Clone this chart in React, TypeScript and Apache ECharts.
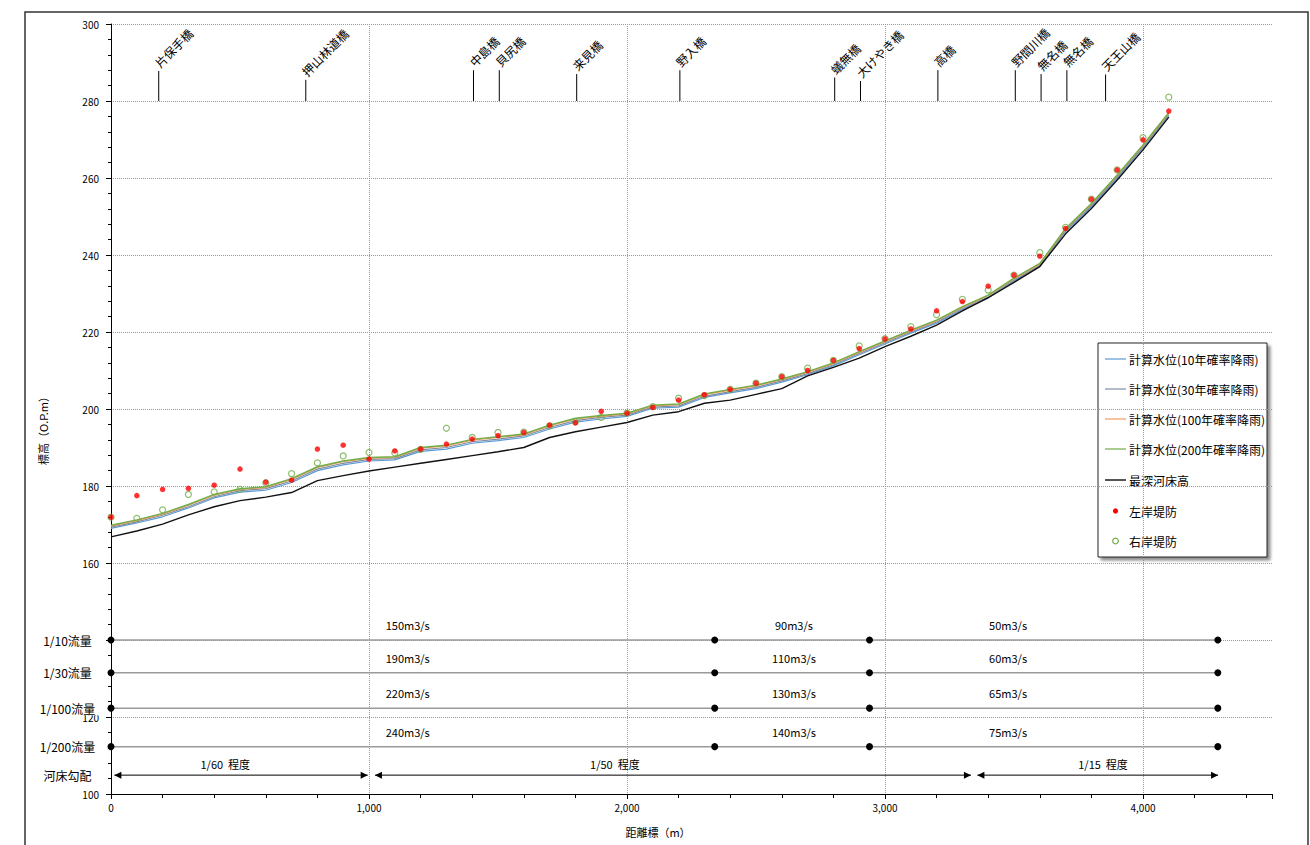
import React, { useEffect, useRef } from "react";
import * as echarts from "echarts";

const FONT = '"Noto Sans CJK JP", "Noto Sans", sans-serif';

// distance marks (m)
const distances = [
  0, 100, 200, 300, 400, 500, 600, 700, 800, 900, 1000, 1100, 1200, 1300,
  1400, 1500, 1600, 1700, 1800, 1900, 2000, 2100, 2200, 2300, 2400, 2500,
  2600, 2700, 2800, 2900, 3000, 3100, 3200, 3300, 3400, 3500, 3600, 3700,
  3800, 3900, 4000, 4100,
];

const level10 = [
  169.0, 170.4, 172.0, 174.3, 176.9, 178.4, 178.9, 180.9, 184.0, 185.5, 186.5,
  186.8, 189.0, 189.6, 191.1, 191.8, 192.6, 194.8, 196.6, 197.4, 198.1, 200.2,
  200.5, 203.0, 204.2, 205.3, 207.0, 208.9, 211.2, 214.1, 216.9, 219.7, 222.3,
  225.8, 228.8, 233.2, 237.0, 246.1, 252.6, 260.0, 267.8, 276.2,
];
const level30 = [
  169.3, 170.7, 172.4, 174.6, 177.2, 178.8, 179.3, 181.3, 184.4, 185.9, 186.9,
  187.1, 189.4, 190.0, 191.5, 192.2, 193.0, 195.2, 197.0, 197.8, 198.4, 200.5,
  200.8, 203.3, 204.5, 205.6, 207.3, 209.2, 211.5, 214.4, 217.2, 220.0, 222.6,
  226.1, 229.1, 233.5, 237.3, 246.4, 252.9, 260.3, 268.1, 276.5,
];
const level100 = [
  169.6, 171.0, 172.7, 175.0, 177.6, 179.1, 179.6, 181.7, 184.8, 186.3, 187.2,
  187.4, 189.8, 190.4, 191.9, 192.6, 193.3, 195.6, 197.4, 198.1, 198.7, 200.8,
  201.1, 203.7, 204.9, 206.0, 207.6, 209.5, 211.8, 214.7, 217.5, 220.3, 222.9,
  226.4, 229.4, 233.8, 237.6, 246.7, 253.2, 260.6, 268.4, 276.8,
];
const level200 = [
  169.8, 171.2, 172.9, 175.2, 177.8, 179.3, 179.8, 181.9, 185.0, 186.5, 187.4,
  187.6, 190.0, 190.6, 192.1, 192.8, 193.5, 195.8, 197.6, 198.3, 198.9, 201.0,
  201.3, 203.9, 205.1, 206.2, 207.8, 209.7, 212.0, 214.9, 217.7, 220.5, 223.1,
  226.6, 229.6, 234.0, 237.8, 246.9, 253.4, 260.8, 268.6, 277.0,
];
const bedLevel = [
  166.8, 168.3, 170.1, 172.5, 174.6, 176.2, 177.1, 178.3, 181.4, 182.7, 183.9,
  184.9, 185.9, 186.9, 187.9, 188.9, 190.0, 192.6, 194.1, 195.3, 196.5, 198.4,
  199.3, 201.5, 202.3, 203.8, 205.3, 208.6, 210.8, 213.2, 216.2, 218.9, 221.8,
  225.5, 228.9, 232.9, 237.0, 245.5, 252.1, 259.5, 267.3, 275.8,
];
const leftBank = [
  171.9, 177.5, 179.1, 179.4, 180.2, 184.4, 181.0, 181.5, 189.6, 190.6, 187.0,
  189.1, 189.6, 190.9, 192.2, 193.1, 193.9, 195.8, 196.4, 199.4, 198.9, 200.4,
  202.3, 203.7, 205.1, 206.7, 208.4, 210.0, 212.6, 215.7, 218.2, 220.8, 225.5,
  227.9, 231.9, 234.8, 239.7, 246.9, 254.5, 262.1, 269.9, 277.4,
];
const rightBank = [
  171.9, 171.6, 173.8, 177.8, 178.5, 179.1, 180.8, 183.2, 186.0, 187.8, 188.7,
  188.6, 189.5, 195.0, 192.6, 193.9, 194.0, 195.6, 196.7, 197.8, 198.9, 200.6,
  202.8, 203.5, 205.1, 206.7, 208.4, 210.6, 212.6, 216.4, 218.3, 221.4, 224.5,
  228.5, 230.9, 234.8, 240.6, 247.2, 254.5, 262.1, 270.5, 281.0,
];

// bridges
const bridgeNames = [
  "片保手橋", "押山林道橋", "中島橋", "貝尻橋", "来見橋", "野入橋", "蟻無橋",
  "大けやき橋", "高橋", "野間川橋", "無名橋", "無名橋", "天王山橋",
];
const bridgeDist = [185, 755, 1405, 1505, 1805, 2205, 2805, 2905, 3205, 3505, 3605, 3705, 3855];
const bridgeTop = [287.8, 285.5, 288, 288, 287, 288, 286.1, 285.2, 288, 288, 287, 288, 286.9];
const bridgeBase = 280;

// design discharge table
const flowRowNames = ["1/10流量", "1/30流量", "1/100流量", "1/200流量"];
const flowLevels = [140, 131.5, 122.3, 112.3];
const flowStations = [0, 2340, 2940, 4290];
const flowLabelDist = [1150, 2647, 3477];
const flowValues = [
  ["150m3/s", "90m3/s", "50m3/s"],
  ["190m3/s", "110m3/s", "60m3/s"],
  ["220m3/s", "130m3/s", "65m3/s"],
  ["240m3/s", "140m3/s", "75m3/s"],
];

// bed slope
const slopeRowName = "河床勾配";
const slopeLevel = 104.9;
const slopeSegments = [
  [13, 995],
  [1023, 3333],
  [3358, 4291],
];
const slopeLabels = ["1/60  程度", "1/50  程度", "1/15  程度"];
const slopeLabelDist = [443, 1953, 3845];

const legendNames = [
  "計算水位(10年確率降雨)",
  "計算水位(30年確率降雨)",
  "計算水位(100年確率降雨)",
  "計算水位(200年確率降雨)",
  "最深河床高",
  "左岸堤防",
  "右岸堤防",
];

const C10 = "#5B9BD5";
const C30 = "#7F8CA3";
const C100 = "#F49A5C";
const C200 = "#70AD47";
const CBED = "#111111";
const CLEFT = "#FF0000";
const CRIGHT = "#70AD47";

function pairs(vals: number[]) {
  return distances.map((d, i) => [d, vals[i]]);
}

function buildOption() {
  const lineSeries = (name: string, vals: number[], color: string, width: number) => ({
    type: "line",
    name,
    data: pairs(vals),
    symbol: "none",
    lineStyle: { color, width },
    itemStyle: { color },
    z: 3,
  });

  const flowLineSeries = flowLevels.map((lv, r) => ({
    type: "line",
    name: flowRowNames[r],
    data: flowStations.map((s) => [s, lv]),
    symbol: "circle",
    symbolSize: 7,
    showSymbol: true,
    itemStyle: { color: "#000" },
    lineStyle: { color: "#9a9a9a", width: 1.5 },
    z: 3,
  }));

  const flowTextData: any[] = [];
  flowLevels.forEach((lv, r) => {
    flowLabelDist.forEach((d, c) => {
      flowTextData.push({ value: [d, lv], name: flowValues[r][c] });
    });
  });

  const rowLabelData = flowLevels
    .map((lv, r) => ({ value: [0, lv], name: flowRowNames[r] }))
    .concat([{ value: [0, slopeLevel], name: slopeRowName }]);

  const slopeLabelData = slopeLabelDist.map((d, i) => ({
    value: [d, slopeLevel],
    name: slopeLabels[i],
  }));

  const legendY = [359, 389, 419, 449, 480, 511, 541];
  const legendColors = [C10, C30, C100, C200, CBED];
  const legendChildren: any[] = [
    {
      type: "rect",
      shape: { x: 1098, y: 343, width: 169, height: 214 },
      style: {
        fill: "#fff",
        stroke: "#222",
        lineWidth: 1,
        shadowBlur: 3,
        shadowOffsetX: 3,
        shadowOffsetY: 3,
        shadowColor: "rgba(0,0,0,0.45)",
      },
    },
  ];
  legendNames.forEach((n, i) => {
    const y = legendY[i];
    if (i < 5) {
      legendChildren.push({
        type: "line",
        shape: { x1: 1105, y1: y, x2: 1126, y2: y },
        style: { stroke: i === 4 ? "#555" : legendColors[i], lineWidth: i === 4 ? 2 : 1.2 },
      });
    } else if (i === 5) {
      legendChildren.push({
        type: "circle",
        shape: { cx: 1115.5, cy: y, r: 2.6 },
        style: { fill: CLEFT },
      });
    } else {
      legendChildren.push({
        type: "circle",
        shape: { cx: 1115.5, cy: y, r: 2.8 },
        style: { fill: "none", stroke: CRIGHT, lineWidth: 1.2 },
      });
    }
    legendChildren.push({
      type: "text",
      x: 1129,
      y,
      style: {
        text: n,
        fill: "#000",
        fontSize: 12,
        fontFamily: FONT,
        align: "left",
        verticalAlign: "middle",
      },
    });
  });

  return {
    animation: false,
    backgroundColor: "#fff",
    textStyle: { fontFamily: FONT },
    grid: { left: 111, right: 38, top: 24, bottom: 51, containLabel: false },
    xAxis: {
      type: "value",
      min: 0,
      max: 4500,
      interval: 1000,
      axisLine: { show: true, onZero: false, lineStyle: { color: "#000", width: 1 } },
      axisTick: { show: true, length: 5, lineStyle: { color: "#000" } },
      minorTick: { show: true, splitNumber: 5, length: 4, lineStyle: { color: "#000" } },
      axisLabel: {
        fontSize: 10,
        color: "#000",
        margin: 8,
        fontFamily: FONT,
        formatter: (v: number) => (v % 1000 === 0 ? v.toLocaleString("en-US") : ""),
      },
      splitLine: {
        show: true,
        showMinLine: false,
        showMaxLine: false,
        lineStyle: { color: "#999", type: "dotted", width: 1 },
      },
    },
    yAxis: {
      type: "value",
      min: 100,
      max: 300,
      interval: 20,
      axisLine: { show: true, lineStyle: { color: "#000", width: 1 } },
      axisTick: { show: true, length: 5, lineStyle: { color: "#000" } },
      minorTick: { show: true, splitNumber: 5, length: 3, lineStyle: { color: "#000" } },
      axisLabel: {
        fontSize: 10,
        color: "#000",
        margin: 12,
        fontFamily: FONT,
        formatter: (v: number) => (v === 140 ? "" : String(v)),
      },
      splitLine: {
        show: true,
        showMinLine: false,
        lineStyle: { color: "#999", type: "dotted", width: 1 },
      },
    },
    graphic: [
      {
        type: "rect",
        shape: { x: 25, y: 12, width: 1283, height: 860 },
        style: { fill: "none", stroke: "#333", lineWidth: 1.5 },
        silent: true,
      },
      {
        type: "text",
        x: 43,
        y: 428,
        rotation: Math.PI / 2,
        style: {
          text: "標高（O.P.m）",
          fill: "#000",
          fontSize: 11,
          fontFamily: FONT,
          align: "center",
          verticalAlign: "middle",
        },
      },
      {
        type: "text",
        x: 658,
        y: 832,
        style: {
          text: "距離標（m）",
          fill: "#000",
          fontSize: 11,
          fontFamily: FONT,
          align: "center",
          verticalAlign: "middle",
        },
      },
      { type: "group", children: legendChildren, z: 100 },
    ],
    series: [
      ...flowLineSeries,
      {
        type: "custom",
        name: "勾配",
        silent: true,
        data: slopeSegments.map((s) => [s[0], slopeLevel, s[1]]),
        renderItem: (params: any, api: any) => {
          const p0 = api.coord([api.value(0), api.value(1)]);
          const p1 = api.coord([api.value(2), api.value(1)]);
          const y = p0[1];
          return {
            type: "group",
            children: [
              { type: "line", shape: { x1: p0[0], y1: y, x2: p1[0], y2: y }, style: { stroke: "#000", lineWidth: 1 } },
              {
                type: "polygon",
                shape: { points: [[p0[0], y], [p0[0] + 7, y - 3.5], [p0[0] + 7, y + 3.5]] },
                style: { fill: "#000" },
              },
              {
                type: "polygon",
                shape: { points: [[p1[0], y], [p1[0] - 7, y - 3.5], [p1[0] - 7, y + 3.5]] },
                style: { fill: "#000" },
              },
            ],
          };
        },
        z: 3,
      },
      lineSeries(legendNames[0], level10, C10, 1.2),
      lineSeries(legendNames[1], level30, C30, 1.2),
      lineSeries(legendNames[2], level100, C100, 1.2),
      lineSeries(legendNames[3], level200, C200, 1.4),
      lineSeries(legendNames[4], bedLevel, CBED, 1.4),
      {
        type: "scatter",
        name: legendNames[6],
        data: pairs(rightBank),
        symbol: "circle",
        symbolSize: 6,
        itemStyle: { color: "rgba(255,255,255,0)", borderColor: CRIGHT, borderWidth: 1.2 },
        z: 4,
      },
      {
        type: "scatter",
        name: legendNames[5],
        data: pairs(leftBank),
        symbol: "circle",
        symbolSize: 5.5,
        itemStyle: { color: CLEFT },
        z: 5,
      },
      {
        type: "custom",
        name: "橋梁",
        silent: true,
        data: bridgeDist.map((d, i) => [d, bridgeTop[i]]),
        renderItem: (params: any, api: any) => {
          const x = api.value(0);
          const p0 = api.coord([x, bridgeBase]);
          const p1 = api.coord([x, api.value(1)]);
          return {
            type: "group",
            children: [
              {
                type: "line",
                shape: { x1: p0[0], y1: p0[1], x2: p1[0], y2: p1[1] },
                style: { stroke: "#000", lineWidth: 1 },
              },
              {
                type: "text",
                x: p1[0] + 2,
                y: p1[1] - 2,
                rotation: Math.PI / 4,
                style: {
                  text: bridgeNames[params.dataIndex],
                  fill: "#000",
                  fontSize: 12,
                  fontFamily: FONT,
                  align: "left",
                  verticalAlign: "bottom",
                },
              },
            ],
          };
        },
        z: 6,
      },
      {
        type: "custom",
        name: "流量ラベル",
        silent: true,
        data: flowTextData,
        renderItem: (params: any, api: any) => {
          const p = api.coord([api.value(0), api.value(1)]);
          return {
            type: "text",
            x: p[0],
            y: p[1] - 15,
            style: {
              text: flowTextData[params.dataIndex].name,
              fill: "#000",
              fontSize: 11,
              fontFamily: FONT,
              align: "center",
              verticalAlign: "middle",
            },
          };
        },
        z: 6,
      },
      {
        type: "custom",
        name: "勾配ラベル",
        silent: true,
        data: slopeLabelData,
        renderItem: (params: any, api: any) => {
          const p = api.coord([api.value(0), api.value(1)]);
          return {
            type: "text",
            x: p[0],
            y: p[1] - 11,
            style: {
              text: slopeLabelData[params.dataIndex].name,
              fill: "#000",
              fontSize: 11,
              fontFamily: FONT,
              align: "center",
              verticalAlign: "middle",
            },
          };
        },
        z: 6,
      },
      {
        type: "custom",
        name: "行ラベル",
        silent: true,
        clip: false,
        data: rowLabelData,
        renderItem: (params: any, api: any) => {
          const p = api.coord([api.value(0), api.value(1)]);
          return {
            type: "text",
            x: p[0] - 43.5,
            y: p[1],
            z2: 50,
            style: {
              text: rowLabelData[params.dataIndex].name,
              fill: "#000",
              fontSize: 12,
              fontFamily: FONT,
              align: "center",
              verticalAlign: "middle",
              backgroundColor: "#fff",
              padding: [1, 5, 1, 5],
            },
          };
        },
        z: 10,
      },
    ],
  };
}

export default function App() {
  const ref = useRef<HTMLDivElement>(null);
  useEffect(() => {
    if (!ref.current) return;
    const chart = echarts.init(ref.current, null, { renderer: "svg" });
    chart.setOption(buildOption() as any);
    return () => chart.dispose();
  }, []);
  return (
    <div
      ref={ref}
      style={{ position: "fixed", left: 0, top: 0, width: 1310, height: 845, background: "#fff" }}
    />
  );
}
